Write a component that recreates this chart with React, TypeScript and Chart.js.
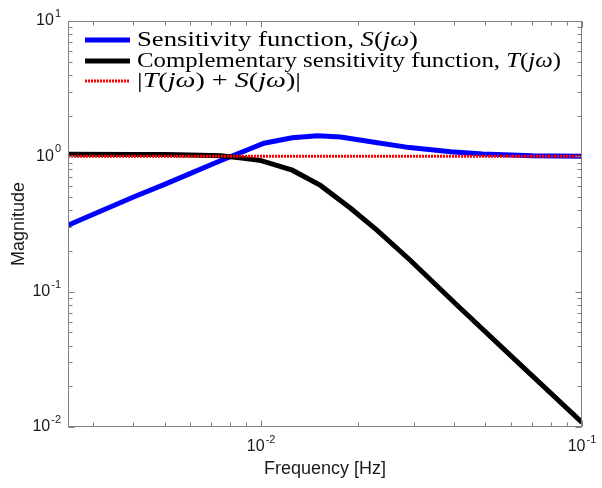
import React, { useEffect, useRef } from "react";
import { Chart, registerables } from "chart.js";

Chart.register(...registerables);

// ---- data ----
const freqS = [0.0025, 0.004, 0.005, 0.006, 0.007, 0.0079, 0.009, 0.0102, 0.0125, 0.015, 0.0177, 0.022, 0.029, 0.039, 0.049, 0.07, 0.1];
const magS = [0.31, 0.5, 0.62, 0.745, 0.87, 0.98, 1.11, 1.25, 1.37, 1.42, 1.39, 1.28, 1.16, 1.08, 1.04, 1.01, 1.0];
const freqT = [0.0025, 0.004, 0.005, 0.006, 0.0075, 0.0087, 0.01, 0.0125, 0.0153, 0.019, 0.023, 0.0292, 0.0409, 0.0641, 0.1];
const magT = [1.035, 1.033, 1.03, 1.025, 1.01, 0.97, 0.93, 0.79, 0.61, 0.413, 0.284, 0.17, 0.079, 0.029, 0.0108];
const freqSum = [0.0025, 0.1];
const magSum = [1.0, 1.0];

const xMin = 0.0025;
const xMax = 0.1;
const yMin = 0.01;
const yMax = 10;
const xTickExps = [-2, -1];
const yTickExps = [-2, -1, 0, 1];
const xTitle = "Frequency [Hz]";
const yTitle = "Magnitude";

type Seg = [string, boolean];
const legendRows: { color: string; dash: number[]; width: number; segs: Seg[]; textWidth: number }[] = [
  { color: "#0000ff", dash: [], width: 5, textWidth: 281, segs: [["Sensitivity function, ", false], ["S", true], ["(", false], ["jω", true], [")", false]] },
  { color: "#000000", dash: [], width: 5, textWidth: 424, segs: [["Complementary sensitivity function, ", false], ["T", true], ["(", false], ["jω", true], [")", false]] },
  { color: "#ff0000", dash: [2, 1], width: 3, textWidth: 164, segs: [["|", false], ["T", true], ["(", false], ["jω", true], [") + ", false], ["S", true], ["(", false], ["jω", true], [")|", false]] },
];

const SANS = "'Liberation Sans', Arial, sans-serif";
const SERIF = "'Liberation Serif', 'Times New Roman', serif";

const decorPlugin = {
  id: "decor",
  afterDatasetsDraw(chart: any) {
    const ctx: CanvasRenderingContext2D = chart.ctx;
    const { left, right, top, bottom } = chart.chartArea;
    const xs = chart.scales.x;
    const ys = chart.scales.y;
    ctx.save();
    ctx.strokeStyle = "#7f7f7f";
    ctx.lineWidth = 1;
    ctx.setLineDash([]);
    const L = Math.round(left) + 0.5;
    const R = Math.round(right) - 0.5;
    const T = Math.round(top) + 0.5;
    const B = Math.round(bottom) - 0.5;
    // ticks
    ctx.beginPath();
    for (let e = -3; e <= -1; e++) {
      for (let m = 1; m <= 9; m++) {
        const v = m * Math.pow(10, e);
        if (v < xMin * 0.999 || v > xMax * 1.001) continue;
        const px = Math.round(xs.getPixelForValue(v)) + 0.5;
        const len = m === 1 ? 6 : 4;
        ctx.moveTo(px, B); ctx.lineTo(px, B - len);
        ctx.moveTo(px, T); ctx.lineTo(px, T + len);
      }
    }
    for (let e = -2; e <= 1; e++) {
      for (let m = 1; m <= 9; m++) {
        const v = m * Math.pow(10, e);
        if (v < yMin * 0.999 || v > yMax * 1.001) continue;
        const py = Math.round(ys.getPixelForValue(v)) + 0.5;
        const len = m === 1 ? 6 : 4;
        ctx.moveTo(L, py); ctx.lineTo(L + len, py);
        ctx.moveTo(R, py); ctx.lineTo(R - len, py);
      }
    }
    ctx.stroke();
    ctx.strokeRect(L, T, R - L, B - T);

    // tick labels
    ctx.fillStyle = "#1a1a1a";
    const baseFont = `16px ${SANS}`;
    const expFont = `11px ${SANS}`;
    ctx.textBaseline = "middle";
    for (const e of xTickExps) {
      const v = Math.pow(10, e);
      const px = xs.getPixelForValue(v);
      ctx.font = baseFont;
      const w1 = ctx.measureText("10").width;
      ctx.font = expFont;
      const w2 = ctx.measureText(String(e)).width;
      const x0 = px - (w1 + w2 + 1) / 2;
      const y0 = bottom + 20;
      ctx.font = baseFont;
      ctx.textAlign = "left";
      ctx.fillText("10", x0, y0);
      ctx.font = expFont;
      ctx.fillText(String(e), x0 + w1 + 1, y0 - 7);
    }
    for (const e of yTickExps) {
      const v = Math.pow(10, e);
      const py = ys.getPixelForValue(v);
      ctx.font = expFont;
      const w2 = ctx.measureText(String(e)).width;
      const xr = left - 7;
      ctx.textAlign = "left";
      ctx.fillText(String(e), xr - w2, py - 7);
      ctx.font = baseFont;
      ctx.textAlign = "right";
      ctx.fillText("10", xr - w2 - 1, py);
    }

    // axis titles
    ctx.font = `18px ${SANS}`;
    ctx.textAlign = "center";
    ctx.fillText(xTitle, (left + right) / 2, bottom + 42);
    ctx.save();
    ctx.translate(19, (top + bottom) / 2);
    ctx.rotate(-Math.PI / 2);
    ctx.fillText(yTitle, 0, 0);
    ctx.restore();

    // legend
    const rowY = [40, 61, 81];
    legendRows.forEach((row, i) => {
      const y = rowY[i];
      ctx.save();
      ctx.strokeStyle = row.color;
      ctx.lineWidth = row.width;
      ctx.setLineDash(row.dash);
      ctx.beginPath();
      ctx.moveTo(85, y);
      ctx.lineTo(130, y);
      ctx.stroke();
      ctx.restore();
      ctx.textAlign = "left";
      ctx.textBaseline = "alphabetic";
      ctx.fillStyle = "#000";
      let natural = 0;
      for (const [txt, it] of row.segs) {
        ctx.font = `${it ? "italic " : ""}22px ${SERIF}`;
        natural += ctx.measureText(txt).width;
      }
      const sx = row.textWidth / natural;
      ctx.save();
      ctx.translate(137, y + 6);
      ctx.scale(sx, 1);
      let x = 0;
      for (const [txt, it] of row.segs) {
        ctx.font = `${it ? "italic " : ""}22px ${SERIF}`;
        ctx.fillText(txt, x, 0);
        x += ctx.measureText(txt).width;
      }
      ctx.restore();
    });
    ctx.restore();
  },
};

export default function App() {
  const ref = useRef<HTMLCanvasElement | null>(null);
  useEffect(() => {
    if (!ref.current) return;
    const toXY = (xs: number[], ys: number[]) => xs.map((x, i) => ({ x, y: ys[i] }));
    const chart = new Chart(ref.current, {
      type: "line",
      data: {
        datasets: [
          { label: "S", data: toXY(freqS, magS), borderColor: "#0000ff", borderWidth: 5, pointRadius: 0, tension: 0, fill: false, order: 2 },
          { label: "T", data: toXY(freqT, magT), borderColor: "#000000", borderWidth: 5, pointRadius: 0, tension: 0, fill: false, order: 1 },
          { label: "T+S", data: toXY(freqSum, magSum), borderColor: "#ff0000", borderWidth: 3, borderDash: [2, 1], pointRadius: 0, tension: 0, fill: false, order: 0 },
        ],
      },
      options: {
        animation: false,
        responsive: false,
        devicePixelRatio: 1,
        layout: { padding: { left: 68, right: 20, top: 21, bottom: 61 } },
        plugins: { legend: { display: false }, tooltip: { enabled: false } },
        scales: {
          x: { type: "logarithmic", min: xMin, max: xMax, display: false },
          y: { type: "logarithmic", min: yMin, max: yMax, display: false },
        },
      },
      plugins: [decorPlugin],
    });
    return () => chart.destroy();
  }, []);
  return (
    <div style={{ position: "fixed", left: 0, top: 0, width: 602, height: 488, background: "#fff" }}>
      <canvas ref={ref} width={602} height={488} />
    </div>
  );
}
